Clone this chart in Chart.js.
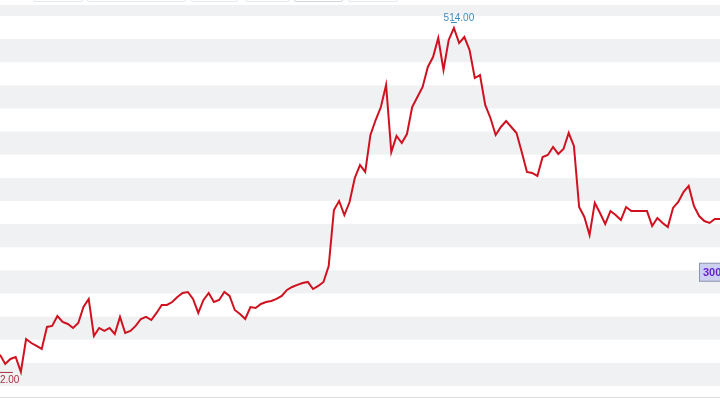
<!DOCTYPE html>
<html>
<head>
<meta charset="utf-8">
<script src="https://cdn.jsdelivr.net/npm/chart.js@4.4.0/dist/chart.umd.min.js"></script>
<style>
  html, body { margin: 0; padding: 0; background: #fff; overflow: hidden; }
  #wrap { position: relative; width: 720px; height: 405px; }
  .btn { position: absolute; top: -19px; height: 19px; border: 1px solid #e6e8ec; border-radius: 2px; background: #fff; }
  .btn.on { border-color: #d2d6de; }
</style>
</head>
<body>
<div id="wrap">
  <div class="btn" style="left:33px;width:48px"></div>
  <div class="btn" style="left:87px;width:97px"></div>
  <div class="btn" style="left:191px;width:45px"></div>
  <div class="btn" style="left:245px;width:43px"></div>
  <div class="btn on" style="left:294px;width:47px"></div>
  <div class="btn" style="left:348px;width:48px"></div>
  <canvas id="myChart" width="720" height="405"></canvas>
</div>
<script>
// prices, one point per session
const prices = [
  227, 219, 223.4, 225.1, 212, 240.9, 237.4, 234.8, 232.2, 251.5,
  252.4, 261.1, 255.9, 254.1, 250.6, 255, 269, 276.1, 243.6, 250.6,
  248, 250.6, 245.3, 260.3, 246.2, 248, 252.4, 258.5, 260.3, 257.6,
  263.8, 270.8, 270.8, 273.4, 277.8, 281.3, 282.2, 276.1, 263.8, 275.2,
  281.3, 273.4, 275.2, 282.2, 278.7, 266.4, 262.9, 258.5, 269, 268.2,
  271.7, 273.4, 274.3, 276.1, 278.7, 284, 286.6, 288.4, 290.1, 291,
  284.8, 287.5, 291, 305, 354.2, 362.1, 349.8, 361.2, 382.3, 393.7,
  387.6, 420.1, 433.2, 444.6, 464, 405.1, 419.2, 413, 420.9, 444.6,
  453.4, 462.2, 479.8, 488.5, 505.2, 477.1, 503.5, 514, 500.8, 506.1,
  494.7, 470.1, 472.7, 446.4, 435, 420.1, 427.1, 432.3, 427.1, 421.8,
  405.1, 387.6, 386.7, 384.1, 400.7, 402.5, 409.5, 403.4, 407.8, 421.8,
  410.4, 356.8, 348.1, 332.3, 360.4, 351.6, 341.9, 353.3, 349.8, 345.4,
  356.8, 353.3, 353.3, 353.3, 353.3, 340.2, 347.2, 342.8, 339.3, 356,
  361.2, 370, 375.3, 357.7, 348.9, 344.5, 342.8, 346.3, 346.3
];
const days = prices.map((_, i) => String(i + 1));

// y axis range and band edges (axis labels are cut off in the picture)
const yRange = [190, 534.2];
const bandStart = 199.7;
const bandStep = 20.305;
const bandCount = 17;

const maxLabel = '514.00';
const minLabel = '212.00';
const markValue = 300;
const markLabel = '300.00';

const bands = {
    id: 'bands',
    beforeDatasetsDraw(chart) {
        const { ctx, chartArea: a, scales: { y } } = chart;
        const edges = [y.min];
        y.ticks.forEach(t => edges.push(t.value));
        edges.push(y.max);
        ctx.save();
        ctx.fillStyle = '#f0f1f3';
        for (let k = 1; k + 1 < edges.length; k += 2) {
            const y0 = y.getPixelForValue(edges[k]);
            const y1 = y.getPixelForValue(edges[k + 1]);
            ctx.fillRect(a.left, y1, a.right - a.left, y0 - y1);
        }
        // bottom axis line
        ctx.strokeStyle = '#d9dfe0';
        ctx.lineWidth = 1;
        ctx.beginPath();
        ctx.moveTo(a.left, a.bottom + 0.5);
        ctx.lineTo(a.right, a.bottom + 0.5);
        ctx.stroke();
        ctx.restore();
    }
};

const marks = {
    id: 'marks',
    afterDatasetsDraw(chart) {
        const { ctx, scales: { y } } = chart;
        const pts = chart.getDatasetMeta(0).data;
        const hi = prices.indexOf(Math.max(...prices));
        const lo = prices.indexOf(Math.min(...prices));
        ctx.save();
        ctx.font = '10px "Liberation Sans", Arial, sans-serif';
        ctx.textBaseline = 'middle';

        // max
        const p = pts[hi];
        ctx.fillStyle = '#3d8ec2';
        ctx.textAlign = 'center';
        ctx.fillText(maxLabel, p.x + 5, p.y - 10);
        ctx.strokeStyle = '#3d8ec2';
        ctx.lineWidth = 1;
        ctx.beginPath();
        ctx.moveTo(p.x - 3, p.y - 5.5);
        ctx.lineTo(p.x + 3, p.y - 5.5);
        ctx.stroke();

        // min
        const q = pts[lo];
        ctx.fillStyle = '#a8323f';
        ctx.textAlign = 'right';
        ctx.fillText(minLabel, q.x - 1.5, q.y + 8);
        ctx.strokeStyle = '#a8323f';
        ctx.beginPath();
        ctx.moveTo(q.x - 21, q.y + 0.5);
        ctx.lineTo(q.x - 8, q.y + 0.5);
        ctx.stroke();

        // price tag on the right edge
        const ym = y.getPixelForValue(markValue);
        ctx.fillStyle = '#ccd1f3';
        ctx.strokeStyle = '#8c93ad';
        ctx.fillRect(699.5, ym - 8.5, 40, 18);
        ctx.strokeRect(699.5, ym - 8.5, 40, 18);
        ctx.fillStyle = '#6c22c8';
        ctx.textAlign = 'left';
        ctx.font = 'bold 11px "Liberation Sans", Arial, sans-serif';
        ctx.fillText(markLabel, 703, ym + 1);
        ctx.restore();
    }
};

const ctx = document.getElementById('myChart').getContext('2d');
new Chart(ctx, {
    type: 'line',
    data: {
        labels: days,
        datasets: [{
            data: prices,
            borderColor: '#d0111f',
            borderWidth: 2,
            pointRadius: 0,
            tension: 0,
            fill: false
        }]
    },
    options: {
        responsive: false,
        animation: false,
        events: [],
        layout: { padding: { top: 5, bottom: 8, left: 0, right: 0 } },
        plugins: { legend: { display: false }, tooltip: { enabled: false } },
        scales: {
            x: { display: false, offset: false },
            y: {
                display: false,
                min: yRange[0],
                max: yRange[1],
                afterBuildTicks(scale) {
                    const t = [];
                    for (let j = 0; j < bandCount; j++) t.push({ value: bandStart + j * bandStep });
                    scale.ticks = t;
                }
            }
        }
    },
    plugins: [bands, marks]
});
</script>
</body>
</html>
